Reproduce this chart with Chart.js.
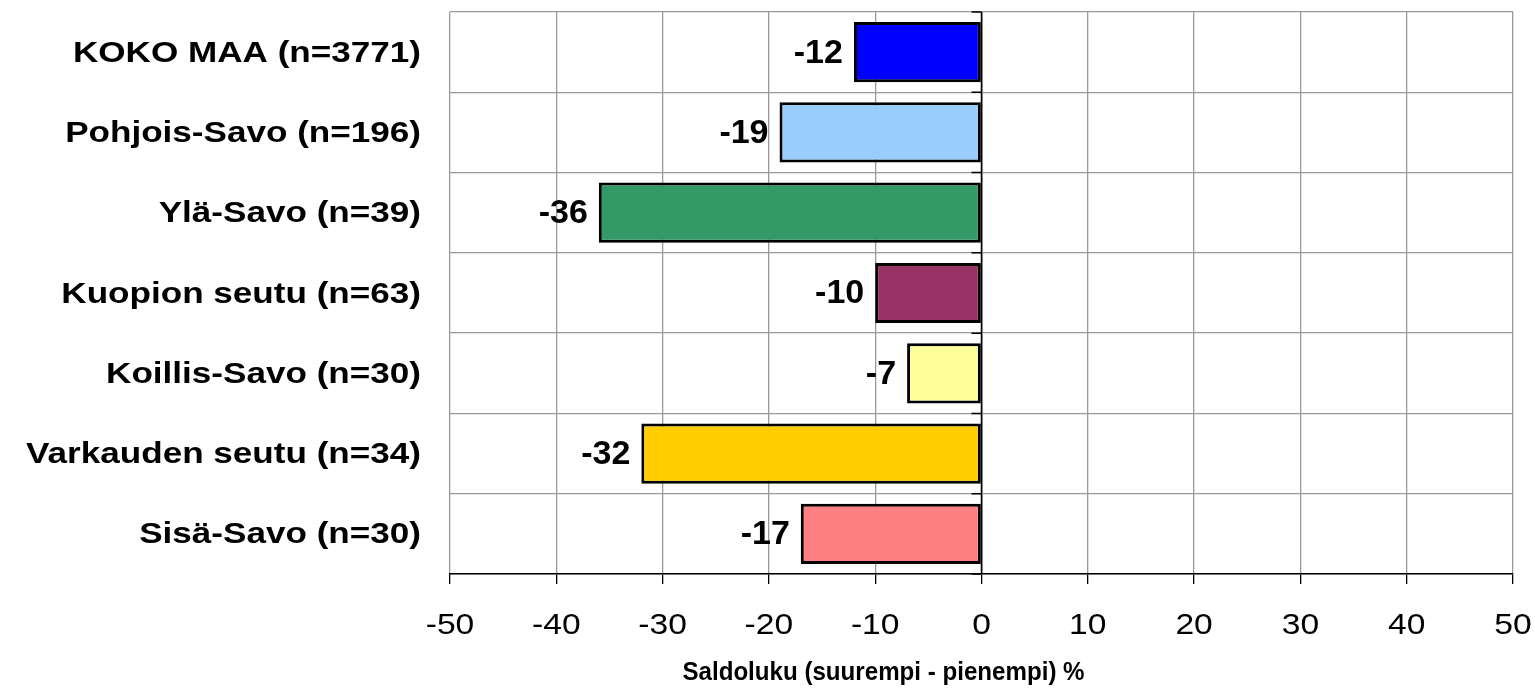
<!DOCTYPE html>
<html>
<head>
<meta charset="utf-8">
<script src="https://cdn.jsdelivr.net/npm/chart.js@4"></script>
<style>
    html, body { margin: 0; padding: 0; background: #fff; }
    #wrap { width: 1535px; height: 694px; }
</style>
</head>
<body>
<div id="wrap"><canvas id="saldo-chart"></canvas></div>
<script>
const categories = [
    'KOKO MAA (n=3771)',
    'Pohjois-Savo (n=196)',
    'Ylä-Savo (n=39)',
    'Kuopion seutu (n=63)',
    'Koillis-Savo (n=30)',
    'Varkauden seutu (n=34)',
    'Sisä-Savo (n=30)'
];
const saldoValues = [-12, -19, -36, -10, -7, -32, -17];
const barColors = ['#0000FF', '#99CCFF', '#339966', '#993366', '#FFFF99', '#FFCC00', '#FF8080'];
const xTicks = [-50, -40, -30, -20, -10, 0, 10, 20, 30, 40, 50];
const axisTitle = 'Saldoluku (suurempi - pienempi) %';

const FONT = "'Liberation Sans', Arial, sans-serif";

// the original labels look horizontally stretched, so widen each fillText around its anchor
const stretchLabels = {
    id: 'stretchLabels',
    beforeDraw(chart) {
        const stretch = { x: [1.12, 0], y: [1.21, 1.5] };
        Object.keys(stretch).forEach(id => {
            const scale = chart.scales[id];
            if (scale._stretched) return;
            const orig = scale.drawLabels.bind(scale);
            scale.drawLabels = function (area) {
                const ctx = chart.ctx;
                const fill = CanvasRenderingContext2D.prototype.fillText;
                ctx.fillText = function (text, x, y) {
                    this.save();
                    this.translate(x, y + stretch[id][1]);
                    this.scale(stretch[id][0], 1);
                    fill.call(this, text, 0, 0);
                    this.restore();
                };
                orig(area);
                delete ctx.fillText;
            };
            // axis title sits left of the plot centre in the original, slightly narrow
            if (id === 'x') {
                const origTitle = scale.drawTitle.bind(scale);
                scale.drawTitle = function () {
                    const ctx = chart.ctx;
                    const mid = (scale.left + scale.right) / 2;
                    ctx.save();
                    ctx.translate(mid - 98, 0);
                    ctx.scale(0.965, 1);
                    ctx.translate(-mid, 0);
                    origTitle();
                    ctx.restore();
                };
            }
            scale._stretched = true;
        });
    }
};

// value labels left of each bar end
const valueLabels = {
    id: 'valueLabels',
    afterDatasetsDraw(chart) {
        const ctx = chart.ctx;
        const meta = chart.getDatasetMeta(0);
        ctx.save();
        ctx.font = 'bold 34px ' + FONT;
        ctx.fillStyle = '#000';
        ctx.textAlign = 'right';
        ctx.textBaseline = 'middle';
        meta.data.forEach((bar, i) => {
            ctx.fillText(String(saldoValues[i]), bar.x - 11, bar.y + 1);
        });
        ctx.restore();
    }
};

// small tick marks on the vertical axis that sits at x = 0
const zeroAxisTicks = {
    id: 'zeroAxisTicks',
    afterDatasetsDraw(chart) {
        const ctx = chart.ctx;
        const x0 = chart.scales.x.getPixelForValue(0);
        const y = chart.scales.y;
        ctx.save();
        ctx.strokeStyle = '#000';
        ctx.lineWidth = 1.5;
        ctx.beginPath();
        ctx.moveTo(x0, y.top);
        ctx.lineTo(x0, y.bottom);
        for (let i = 0; i <= categories.length; i++) {
            const py = y.top + (y.bottom - y.top) * i / categories.length;
            ctx.moveTo(x0 - 10, py);
            ctx.lineTo(x0, py);
        }
        ctx.stroke();
        ctx.restore();
    }
};

function noPadding(scale) {
    scale.paddingTop = 0;
    scale.paddingBottom = 0;
    scale.paddingLeft = 0;
    scale.paddingRight = 0;
}

new Chart(document.getElementById('saldo-chart'), {
    type: 'bar',
    data: {
        labels: categories,
        datasets: [{
            data: saldoValues,
            backgroundColor: barColors,
            borderColor: '#000',
            borderWidth: 3,
            borderSkipped: false,
            barPercentage: 0.75,
            categoryPercentage: 1
        }]
    },
    options: {
        indexAxis: 'y',
        responsive: true,
        maintainAspectRatio: false,
        animation: false,
        layout: { padding: { top: 12, right: 22, left: 0, bottom: 0 } },
        plugins: {
            legend: { display: false },
            tooltip: { enabled: false }
        },
        scales: {
            x: {
                min: -50,
                max: 50,
                afterBuildTicks: scale => { scale.ticks = xTicks.map(v => ({ value: v })); },
                afterFit: scale => { scale.height = 120; noPadding(scale); },
                grid: {
                    color: ctx => (ctx.tick && ctx.tick.value === 0) ? '#000' : '#999',
                    lineWidth: 1.3,
                    drawTicks: true,
                    tickLength: 10,
                    tickColor: '#000'
                },
                border: { display: true, color: '#000', width: 1.5 },
                ticks: {
                    color: '#000',
                    padding: 24,
                    autoSkip: false,
                    maxRotation: 0,
                    font: { family: FONT, size: 30 }
                },
                title: {
                    display: true,
                    text: axisTitle,
                    color: '#000',
                    padding: { top: 0, bottom: 6 },
                    font: { family: FONT, size: 25, weight: 'bold' }
                }
            },
            y: {
                afterFit: scale => { scale.width = 450; noPadding(scale); },
                grid: {
                    offset: true,
                    color: '#999',
                    lineWidth: 1.3,
                    drawTicks: false
                },
                border: { display: false },
                ticks: {
                    color: '#000',
                    padding: 29,
                    autoSkip: false,
                    font: { family: FONT, size: 29, weight: 'bold' }
                }
            }
        }
    },
    plugins: [stretchLabels, valueLabels, zeroAxisTicks]
});
</script>
</body>
</html>
